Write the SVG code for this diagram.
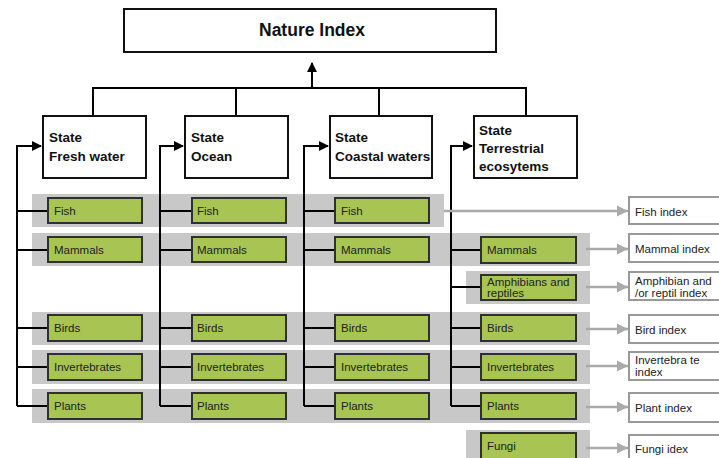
<svg xmlns="http://www.w3.org/2000/svg" width="719" height="458" viewBox="0 0 719 458">
<defs>
<marker id="ab" markerWidth="10" markerHeight="10" refX="9" refY="5" orient="auto" markerUnits="userSpaceOnUse"><path d="M0,0 L10,5 L0,10 Z" fill="#000"/></marker>
<marker id="ag" markerWidth="12" markerHeight="12" refX="11" refY="6" orient="auto" markerUnits="userSpaceOnUse"><path d="M0,0.5 L11,6 L0,11.5 Z" fill="#aaa"/></marker>
<style>
.band{fill:#c8c8c8}
.g rect{fill:#a8c452;stroke:#2f2f2f;stroke-width:2}
.g text{font-family:"Liberation Sans",Arial,sans-serif;font-size:11.5px;fill:#222}
.st rect{fill:#fff;stroke:#111;stroke-width:2}
.st text{font-family:"Liberation Sans",Arial,sans-serif;font-size:13.5px;font-weight:bold;fill:#111}
.ix rect{fill:#fff;stroke:#999;stroke-width:2}
.ix text{font-family:"Liberation Sans",Arial,sans-serif;font-size:11.5px;fill:#222}
.bl{fill:none;stroke:#000;stroke-width:2}
.gl{fill:none;stroke:#aaa;stroke-width:2.5}
</style>
</defs>
<g id="bands">
<rect class="band" x="32" y="194" width="412" height="33"/>
<rect class="band" x="32" y="233" width="558" height="33"/>
<rect class="band" x="466" y="271" width="124" height="33"/>
<rect class="band" x="32" y="312" width="558" height="33"/>
<rect class="band" x="32" y="350" width="558" height="34"/>
<rect class="band" x="32" y="389" width="558" height="34"/>
<rect class="band" x="466" y="430" width="124" height="30"/>
</g>
<g id="connectors">
<path class="bl" d="M312,88 V63" marker-end="url(#ab)"/>
<path class="bl" d="M93,116 V88 H526 V116 M236,88 V116 M379,88 V116"/>
<path class="bl" d="M17,406 V146 H41" marker-end="url(#ab)"/>
<path class="bl" d="M17,211 H48 M17,250 H48 M17,328 H48 M17,367 H48 M17,406 H48"/>
<path class="bl" d="M160,406 V146 H183" marker-end="url(#ab)"/>
<path class="bl" d="M160,211 H192 M160,250 H192 M160,328 H192 M160,367 H192 M160,406 H192"/>
<path class="bl" d="M304,406 V146 H328" marker-end="url(#ab)"/>
<path class="bl" d="M304,211 H335 M304,250 H335 M304,328 H335 M304,367 H335 M304,406 H335"/>
<path class="bl" d="M451,406 V146 H472" marker-end="url(#ab)"/>
<path class="bl" d="M451,250 H481 M451,287 H481 M451,328 H481 M451,367 H481 M451,406 H481"/>
<path class="gl" d="M444,211 H628" marker-end="url(#ag)"/>
<path class="gl" d="M586,249 H628" marker-end="url(#ag)"/>
<path class="gl" d="M586,287 H628" marker-end="url(#ag)"/>
<path class="gl" d="M586,329 H628" marker-end="url(#ag)"/>
<path class="gl" d="M586,366 H628" marker-end="url(#ag)"/>
<path class="gl" d="M586,407 H628" marker-end="url(#ag)"/>
<path class="gl" d="M586,448 H628" marker-end="url(#ag)"/>
</g>
<g id="nature-index" class="st"><rect x="124" y="9" width="372" height="43"/><text x="312" y="36" text-anchor="middle" font-size="17.5" style="font-size:17.5px">Nature Index</text></g>
<g id="state-fresh" class="st"><rect x="43" y="116" width="103" height="62"/><text x="49" y="142">State</text><text x="49" y="161">Fresh water</text></g>
<g id="state-ocean" class="st"><rect x="185" y="116" width="103" height="62"/><text x="191" y="142">State</text><text x="191" y="161">Ocean</text></g>
<g id="state-coastal" class="st"><rect x="330" y="116" width="102" height="62"/><text x="335" y="142">State</text><text x="335" y="161">Coastal waters</text></g>
<g id="state-terrestrial" class="st"><rect x="474" y="116" width="103" height="62"/><text x="479" y="135">State</text><text x="479" y="153">Terrestrial</text><text x="479" y="171">ecosytems</text></g>
<g id="fw-fish" class="g"><rect x="48" y="198" width="94" height="25"/><text x="54" y="215">Fish</text></g>
<g id="fw-mammals" class="g"><rect x="48" y="237" width="94" height="25"/><text x="54" y="254">Mammals</text></g>
<g id="fw-birds" class="g"><rect x="48" y="315" width="94" height="26"/><text x="54" y="332">Birds</text></g>
<g id="fw-invertebrates" class="g"><rect x="48" y="354" width="94" height="26"/><text x="54" y="371">Invertebrates</text></g>
<g id="fw-plants" class="g"><rect x="48" y="393" width="94" height="26"/><text x="54" y="410">Plants</text></g>
<g id="oc-fish" class="g"><rect x="192" y="198" width="94" height="25"/><text x="197" y="215">Fish</text></g>
<g id="oc-mammals" class="g"><rect x="192" y="237" width="94" height="25"/><text x="197" y="254">Mammals</text></g>
<g id="oc-birds" class="g"><rect x="192" y="315" width="94" height="26"/><text x="197" y="332">Birds</text></g>
<g id="oc-invertebrates" class="g"><rect x="192" y="354" width="94" height="26"/><text x="197" y="371">Invertebrates</text></g>
<g id="oc-plants" class="g"><rect x="192" y="393" width="94" height="26"/><text x="197" y="410">Plants</text></g>
<g id="co-fish" class="g"><rect x="335" y="198" width="94" height="25"/><text x="341" y="215">Fish</text></g>
<g id="co-mammals" class="g"><rect x="335" y="237" width="94" height="25"/><text x="341" y="254">Mammals</text></g>
<g id="co-birds" class="g"><rect x="335" y="315" width="94" height="26"/><text x="341" y="332">Birds</text></g>
<g id="co-invertebrates" class="g"><rect x="335" y="354" width="94" height="26"/><text x="341" y="371">Invertebrates</text></g>
<g id="co-plants" class="g"><rect x="335" y="393" width="94" height="26"/><text x="341" y="410">Plants</text></g>
<g id="te-mammals" class="g"><rect x="481" y="237" width="95" height="26"/><text x="487" y="254">Mammals</text></g>
<g id="te-amphibians" class="g"><rect x="481" y="275" width="95" height="25"/><text x="487" y="286">Amphibians and</text><text x="487" y="297">reptiles</text></g>
<g id="te-birds" class="g"><rect x="481" y="315" width="95" height="26"/><text x="487" y="332">Birds</text></g>
<g id="te-invertebrates" class="g"><rect x="481" y="354" width="95" height="26"/><text x="487" y="371">Invertebrates</text></g>
<g id="te-plants" class="g"><rect x="481" y="393" width="95" height="26"/><text x="487" y="410">Plants</text></g>
<g id="te-fungi" class="g"><rect x="481" y="433" width="95" height="30"/><text x="487" y="450">Fungi</text></g>
<g id="ix-fish" class="ix"><rect x="629" y="197" width="95" height="27"/><text x="635" y="216">Fish index</text></g>
<g id="ix-mammal" class="ix"><rect x="629" y="234" width="95" height="28"/><text x="635" y="253">Mammal index</text></g>
<g id="ix-amphibian" class="ix"><rect x="629" y="272" width="95" height="28"/><text x="635" y="285">Amphibian and</text><text x="635" y="297">/or reptil index</text></g>
<g id="ix-bird" class="ix"><rect x="629" y="315" width="95" height="28"/><text x="635" y="334">Bird index</text></g>
<g id="ix-invertebrate" class="ix"><rect x="629" y="352" width="95" height="28"/><text x="635" y="364">Invertebra te</text><text x="635" y="376">index</text></g>
<g id="ix-plant" class="ix"><rect x="629" y="393" width="95" height="29"/><text x="635" y="412">Plant index</text></g>
<g id="ix-fungi" class="ix"><rect x="629" y="435" width="95" height="30"/><text x="635" y="453">Fungi idex</text></g>
</svg>
